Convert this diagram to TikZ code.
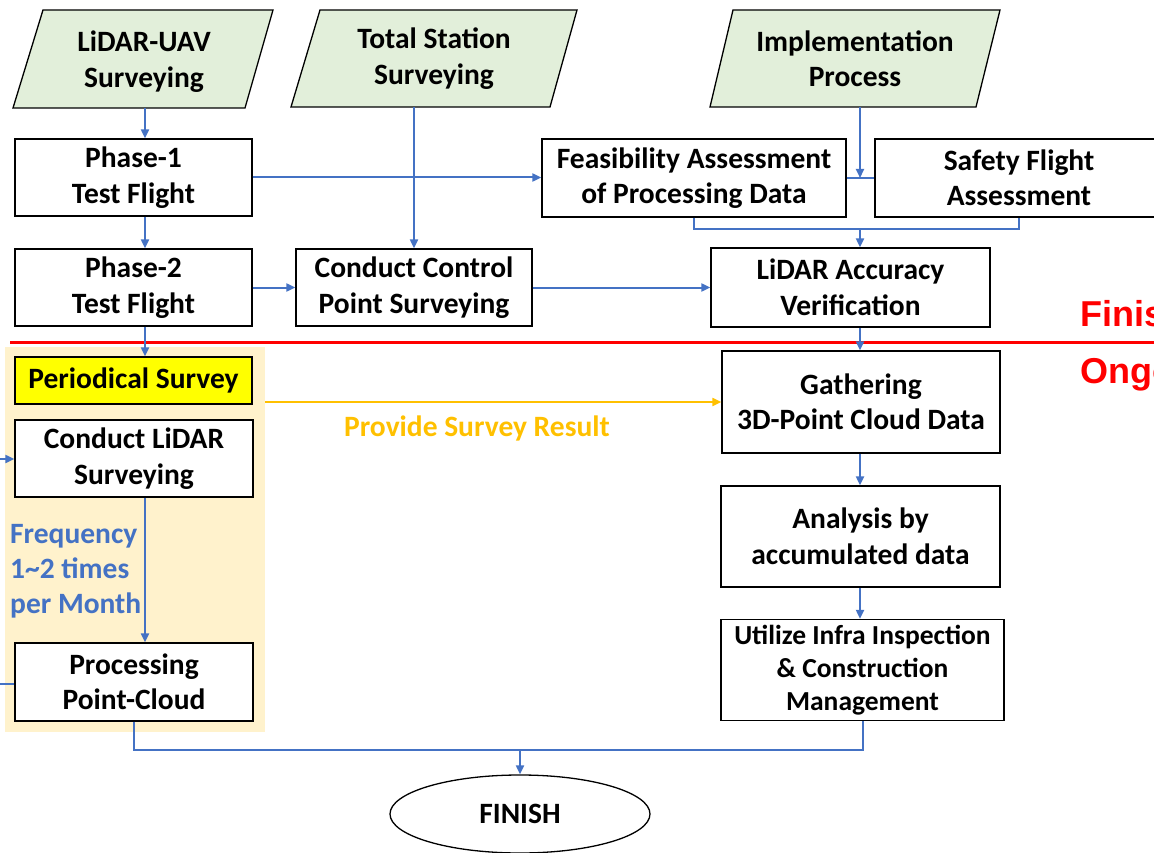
\documentclass[tikz,border=0pt]{standalone}
\usepackage{fontspec}
\setmainfont{Carlito}
\newfontfamily\redfont{Liberation Sans}
\usetikzlibrary{arrows.meta,shapes.geometric}
\definecolor{cblue}{HTML}{4472C4}
\definecolor{cgreen}{HTML}{E2EFDA}
\definecolor{cbeige}{HTML}{FFF2CC}
\definecolor{cyellow}{HTML}{FFFF00}
\definecolor{corange}{HTML}{FFC000}
\definecolor{cred}{HTML}{FF0000}
\begin{document}
\begin{tikzpicture}[x=1pt,y=-1pt,
  txt/.style={font=\bfseries\fontsize{29.5}{35.5}\selectfont, align=center, inner sep=0pt},
  box/.style={txt, draw=black, line width=1.3pt, fill=white},
  para/.style={draw=black, line width=1.3pt, fill=cgreen},
  line/.style={draw=cblue, line width=2pt},
  arr/.style={line, -{Triangle[length=9pt,width=8pt]}},
  yarr/.style={draw=corange, line width=2pt, -{Triangle[length=9pt,width=8pt]}},
  redtxt/.style={text=cred, font=\redfont\bfseries\fontsize{36}{40}\selectfont, inner sep=0pt, anchor=base west}]
\useasboundingbox (0,0) rectangle (1154,853);
\clip (0,0) rectangle (1154,853);

% background of periodical block
\fill[cbeige] (5,347) rectangle (265,732);
% red divider
\draw[cred, line width=3pt] (10,342) -- (1160,342);
\node[redtxt] (fin1) at (1080,326) {Finished};
\node[redtxt] (ong1) at (1080,383) {Ongoing};

% input parallelograms
\draw[para] (13,108) -- (245,108) -- (273,10) -- (43,10) -- cycle;
\draw[para] (291,107) -- (550,107) -- (577,10) -- (320,10) -- cycle;
\draw[para] (710,107) -- (976,107) -- (1000,10) -- (733,10) -- cycle;
\node[txt, minimum height=98pt, text depth=0pt] (u1) at (144,59) {LiDAR-UAV\\Surveying};
\node[txt, minimum height=97pt] (u2) at (434,58.5) {Total Station\\Surveying};
\node[txt, minimum height=97pt] (u3) at (855,58.5) {Implementation\\Process};

% boxes
\node[box, minimum width=237pt, minimum height=77pt] (p1) at (133.5,177.5) {Phase-1\\Test Flight};
\node[box, minimum width=237pt, minimum height=77pt] (p2) at (133.5,287.5) {Phase-2\\Test Flight};
\node[box, minimum width=236pt, minimum height=77pt] (cc) at (414,287.5) {Conduct Control\\Point Surveying};
\node[box, minimum width=304pt, minimum height=78pt] (fe) at (694,178) {Feasibility Assessment\\of Processing Data};
\node[box, minimum width=288pt, minimum height=78pt] (sf) at (1019,178) {Safety Flight\\Assessment};
\node[box, minimum width=279pt, minimum height=79pt] (la) at (850.5,287.5) {LiDAR Accuracy\\Verification};
\node[box, fill=cyellow, minimum width=237pt, minimum height=47pt] (ps) at (133.5,380.5) {Periodical Survey};
\node[box, minimum width=238pt, minimum height=77pt] (cl) at (134,458.5) {Conduct LiDAR\\Surveying};
\node[box, minimum width=238pt, minimum height=78pt] (pc) at (134,682) {Processing\\Point-Cloud};
\node[box, minimum width=278pt, minimum height=102pt] (gt) at (861,402) {Gathering\\3D-Point Cloud Data};
\node[box, minimum width=279pt, minimum height=101pt] (an) at (860.5,536.5) {Analysis by\\accumulated data};
\node[box, font=\bfseries\fontsize{27.5}{33}\selectfont, minimum width=283pt, minimum height=101pt] (ut) at (862.5,670) {Utilize Infra Inspection\\\& Construction\\Management};
\node[box, ellipse, minimum width=260pt, minimum height=78pt] (fin) at (520,814) {FINISH};

% labels
\node[txt, text=cblue, align=left, anchor=north west, font=\bfseries\fontsize{29.5}{35}\selectfont] (freq) at (10,524) {Frequency\\1\textasciitilde2 times\\per Month};
\node[txt, text=corange] (prov) at (477,428) {Provide Survey Result};

% helper coordinates
\coordinate (ax) at (145,0);
\coordinate (j1) at (860,178);
\coordinate (j2) at (860,229);
\coordinate (j3) at (520,750);
\coordinate (l1) at (0,459);
\coordinate (l2) at (0,684);
\coordinate (y1) at (265,402);

% connectors
\draw[arr] (u1.south -| ax) -- (p1.north -| ax);
\draw[arr] (p1.south -| ax) -- (p2.north -| ax);
\draw[arr] (p2.south -| ax) -- (ps.north -| ax);
\draw[arr] (cl.south -| ax) -- (pc.north -| ax);
\draw[arr] (u2.south -| cc.north) -- (cc.north);
\draw[arr] (p1.east) -- (p1.east -| fe.west);
\draw[arr] (p2.east) -- (cc.west);
\draw[arr] (cc.east) -- (la.west);
\draw[line] (fe.east) -- (sf.west);
\draw[arr] (u3.south -| j1) -- (j1);
\draw[line] (fe.south) -- (fe.south |- j2) -- (sf.south |- j2) -- (sf.south);
\draw[arr] (j2) -- (j2 |- la.north);
\draw[arr] (la.south -| j1) -- (gt.north -| j1);
\draw[arr] (gt.south -| j1) -- (an.north -| j1);
\draw[arr] (an.south -| j1) -- (ut.north -| j1);
\draw[line] (pc.south) -- (pc.south |- j3) -- (ut.south |- j3) -- (ut.south);
\draw[arr] (j3) -- (fin.north);
\draw[arr] (l1) -- (l1 -| cl.west);
\draw[line] (l2) -- (l2 -| pc.west);
\draw[yarr] (y1) -- (gt.west);
\end{tikzpicture}
\end{document}
